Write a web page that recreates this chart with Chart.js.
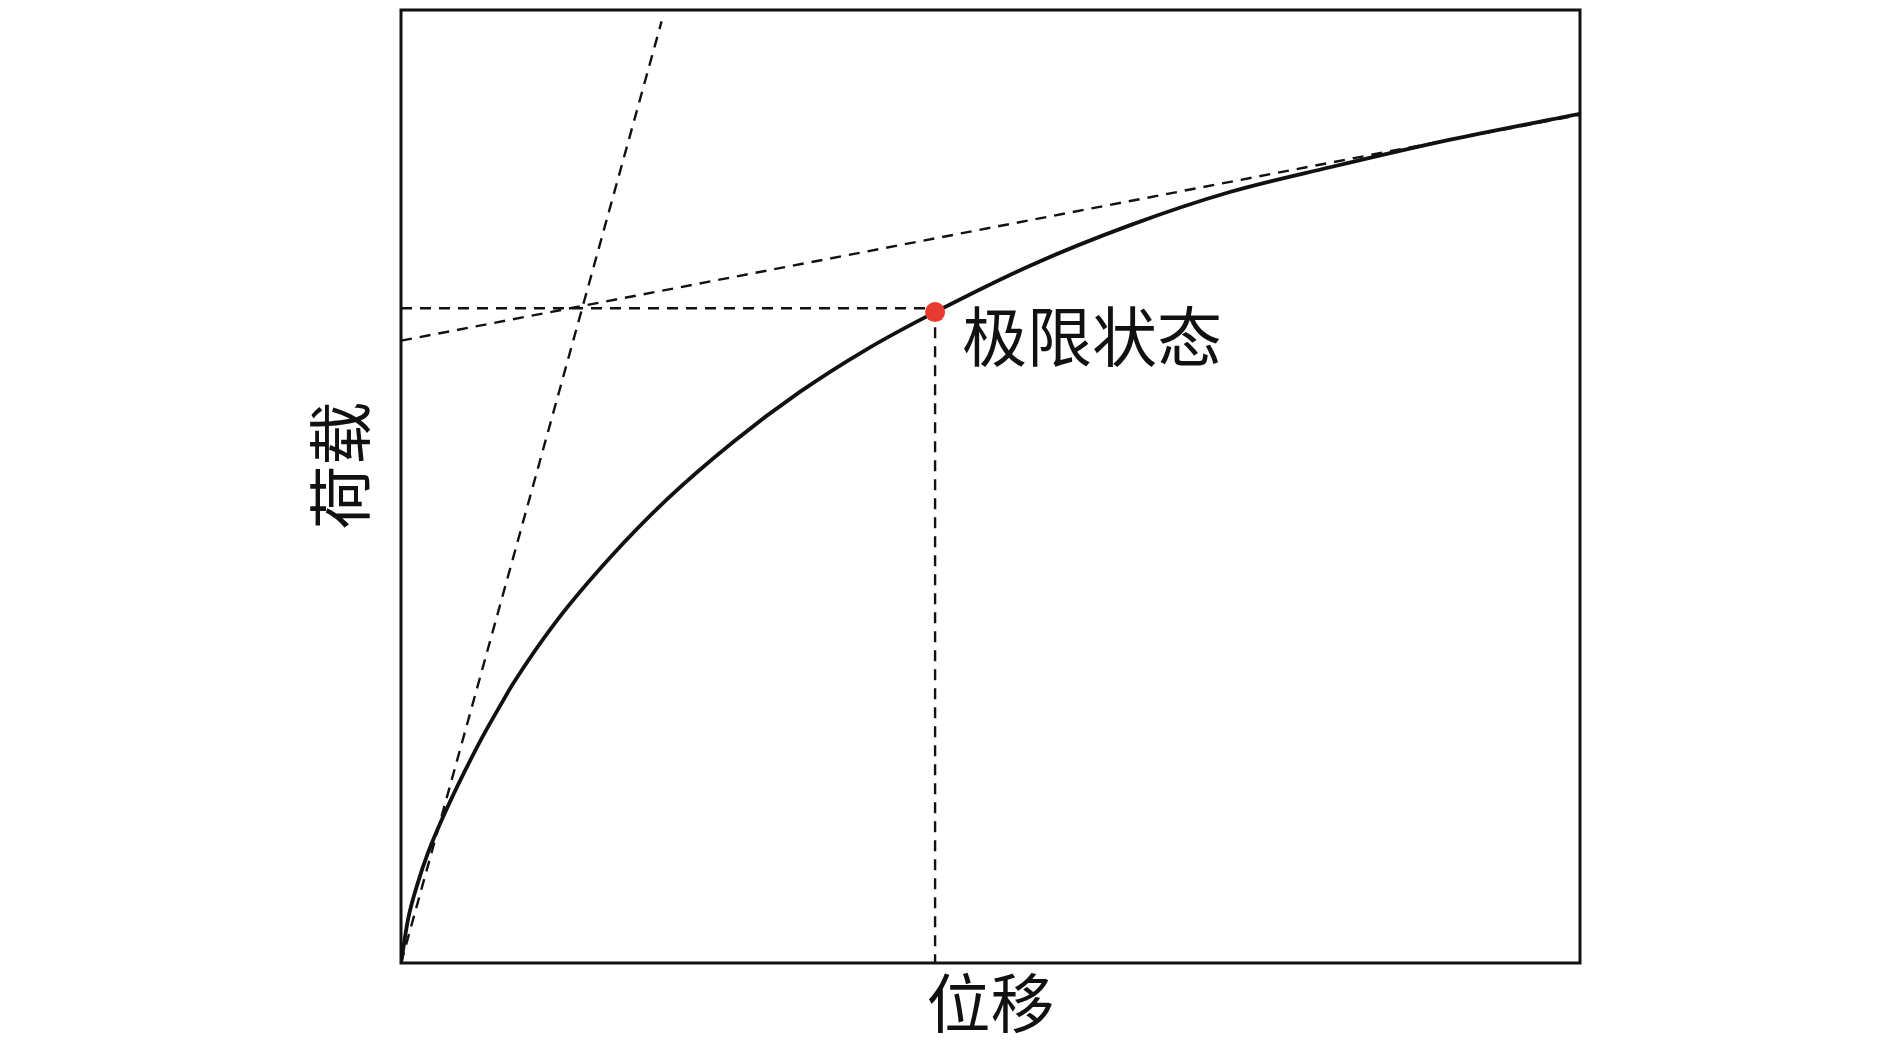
<!DOCTYPE html>
<html>
<head>
<meta charset="utf-8">
<title>荷载-位移曲线</title>
<script src="https://cdn.jsdelivr.net/npm/chart.js@4/dist/chart.umd.min.js"></script>
<style>
    html, body { margin: 0; padding: 0; background: #fff; }
    #graph { width: 1891px; height: 1048px; }
</style>
</head>
<body>
<div id="graph"><canvas id="myGraph" width="1891" height="1048"></canvas></div>
<script>
// load-displacement curve (axes run 0..100, no ticks)
const displacement = [0, 0.6, 1.4, 2.3, 3.2, 4.3, 5.4, 6.9, 8.6, 9.5, 13.2, 17.7, 22.6, 28.2, 33.8, 39.5, 45.3, 53.4, 61.8, 70.3, 78.8, 89.0, 100];
const load = [0, 4.6, 8.3, 11.6, 14.3, 17.3, 20.1, 23.7, 27.4, 29.3, 35.9, 42.5, 48.7, 54.7, 59.9, 64.4, 68.3, 73.2, 77.4, 80.9, 83.5, 86.4, 89.1];

// initial tangent and final tangent (dashed)
const initialTangentX = [0, 22.1];
const initialTangentY = [0, 98.8];
const finalTangentX = [0, 100];
const finalTangentY = [65.3, 89.0];

// limit state point and its guide lines
const limitX = 45.3;
const limitY = 68.3;
const guideY = 68.7;
const limitLabel = '极限状态';

const xTitle = '位移';
const yTitle = '荷载';

const cjkFont = "'Noto Sans CJK SC', 'Noto Sans CJK JP', sans-serif";

function toPoints(xs, ys) {
    return xs.map((x, i) => ({ x: x, y: ys[i] }));
}

// frame round the plot, the y title and the limit state label
const framePlugin = {
    id: 'frame',
    afterDraw(chart) {
        const ctx = chart.ctx;
        const area = chart.chartArea;
        ctx.save();
        ctx.strokeStyle = '#111';
        ctx.lineWidth = 3;
        ctx.strokeRect(area.left, area.top, area.right - area.left, area.bottom - area.top);

        ctx.fillStyle = '#111';
        ctx.textBaseline = 'middle';

        // y title sits a little above the middle of the axis
        ctx.save();
        ctx.translate(area.left - 61, (area.top + area.bottom) / 2 - 21);
        ctx.rotate(-Math.PI / 2);
        ctx.textAlign = 'center';
        ctx.font = `64px ${cjkFont}`;
        ctx.fillText(yTitle, 0, 0);
        ctx.restore();

        const px = chart.scales.x.getPixelForValue(limitX);
        const py = chart.scales.y.getPixelForValue(limitY);
        ctx.font = `65px ${cjkFont}`;
        ctx.textAlign = 'left';
        ctx.fillText(limitLabel, px + 27, py + 24);
        ctx.restore();
    }
};

const dashed = {
    borderColor: '#111',
    borderWidth: 2.4,
    borderDash: [11, 8],
    pointRadius: 0,
    fill: false,
    tension: 0,
};

const data = {
    datasets: [
        {
            label: 'limit point',
            data: [{ x: limitX, y: limitY }],
            pointRadius: 10,
            pointBackgroundColor: 'rgb(232, 58, 48)',
            pointBorderWidth: 0,
            showLine: false,
            order: 0,
        },
        {
            label: 'load curve',
            data: toPoints(displacement, load),
            borderColor: '#111',
            borderWidth: 3.8,
            pointRadius: 0,
            fill: false,
            cubicInterpolationMode: 'monotone',
            order: 1,
        },
        Object.assign({ label: 'initial tangent', data: toPoints(initialTangentX, initialTangentY), order: 2 }, dashed),
        Object.assign({ label: 'final tangent', data: toPoints(finalTangentX, finalTangentY), order: 2 }, dashed),
        Object.assign({ label: 'guide h', data: [{ x: 0, y: guideY }, { x: limitX, y: guideY }], order: 2 }, dashed),
        Object.assign({ label: 'guide v', data: [{ x: limitX, y: guideY }, { x: limitX, y: 0 }], order: 2 }, dashed),
    ]
};

const ctx = document.getElementById('myGraph').getContext('2d');
let myLineChart = new Chart(ctx, {
    type: 'line',
    data: data,
    plugins: [framePlugin],
    options: {
        responsive: false,
        animation: false,
        layout: { padding: { top: 7, right: 311, left: 0, bottom: 0 } },
        plugins: {
            legend: { display: false },
            tooltip: { enabled: false },
        },
        scales: {
            x: {
                type: 'linear',
                min: 0,
                max: 100,
                ticks: { display: false },
                grid: { display: false },
                border: { display: false },
                title: {
                    display: true,
                    text: xTitle,
                    color: '#111',
                    font: { family: cjkFont, size: 64, lineHeight: 1 },
                    padding: { top: 0, bottom: 13 },
                },
                afterFit(scale) { scale.height = 85; },
            },
            y: {
                type: 'linear',
                min: 0,
                max: 100,
                ticks: { display: false },
                grid: { display: false },
                border: { display: false },
                afterFit(scale) { scale.width = 401; },
            },
        },
    },
});
</script>
</body>
</html>
